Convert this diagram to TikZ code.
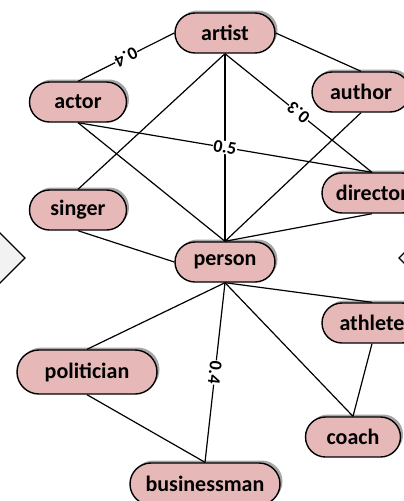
\documentclass[tikz,border=0pt]{standalone}
\usepackage{fontspec}
\setmainfont{Carlito}
\usetikzlibrary{shapes.misc,shadows,backgrounds}
\definecolor{pillfill}{HTML}{E6B9B8}
\definecolor{sidegray}{HTML}{F2F2F2}
\tikzset{
  pill/.style={rounded rectangle, draw=black, line width=1.4pt, fill=pillfill,
    minimum height=40pt, inner sep=2pt, text=black,
    font=\bfseries\fontsize{22}{26}\selectfont,
    drop shadow={shadow xshift=2.5pt, shadow yshift=2.5pt, opacity=0.35, fill=black}},
  link/.style={line width=1.2pt, draw=black},
  weight/.style={midway, sloped, allow upside down, fill=white, inner sep=0.6pt,
    font=\bfseries\fontsize{18}{21}\selectfont}
}
\begin{document}
\begin{tikzpicture}[x=1pt, y=-1pt]
  \useasboundingbox (0,0) rectangle (404,501);
  \clip (0,0) rectangle (404,501);

  % side markers at the picture edges
  \draw[line width=1.2pt, fill=sidegray] (25,258) -- (-1,232) -- (-27,258) -- (-1,284) -- cycle;
  \draw[line width=1.2pt, fill=sidegray] (399,258) -- (425,232) -- (451,258) -- (425,284) -- cycle;

  % concept nodes
  \node[pill, minimum width=104pt] (artist) at (225,33) {artist};
  \node[pill, minimum width=101pt] (actor) at (78,102) {actor};
  \node[pill, minimum width=102pt] (author) at (361,92) {author};
  \node[pill, minimum width=104pt] (director) at (372,193) {director};
  \node[pill, minimum width=101pt] (singer) at (78,210) {singer};
  \node[pill, minimum width=104pt] (person) at (225,262) {person};
  \node[pill, minimum width=104pt] (athlete) at (372,323) {athlete};
  \node[pill, minimum width=144pt, minimum height=44pt] (politician) at (87,372) {politician};
  \node[pill, minimum width=99pt] (coach) at (353,437) {coach};
  \node[pill, minimum width=154pt, minimum height=42pt] (businessman) at (205,484) {businessman};

  % relations
  \begin{pgfonlayer}{background}
    \draw[link] (artist.west) -- (actor.north) node[weight] {0.4};
    \draw[link] (artist.east) -- (author.north);
    \draw[link] (director.north) -- (artist.south) node[weight] {0.3};
    \draw[link] (artist.south) -- (singer.north);
    \draw[link] (artist.south) -- (person.north);
    \draw[link] (actor.south) -- (director.north) node[weight] {0.5};
    \draw[link] (actor.south) -- (person.north);
    \draw[link] (author.south) -- (person.north);
    \draw[link] (director.south) -- (person.north);
    \draw[link] (singer.south) -- (person.west);
    \draw[link] (person.south) -- (athlete.north);
    \draw[link] (person.south) -- (politician.north);
    \draw[link] (person.south) -- (businessman.north) node[weight] {0.4};
    \draw[link] (person.south) -- (coach.north);
    \draw[link] (athlete.south) -- (coach.north);
    \draw[link] (politician.south) -- (businessman.north);
  \end{pgfonlayer}
\end{tikzpicture}
\end{document}
